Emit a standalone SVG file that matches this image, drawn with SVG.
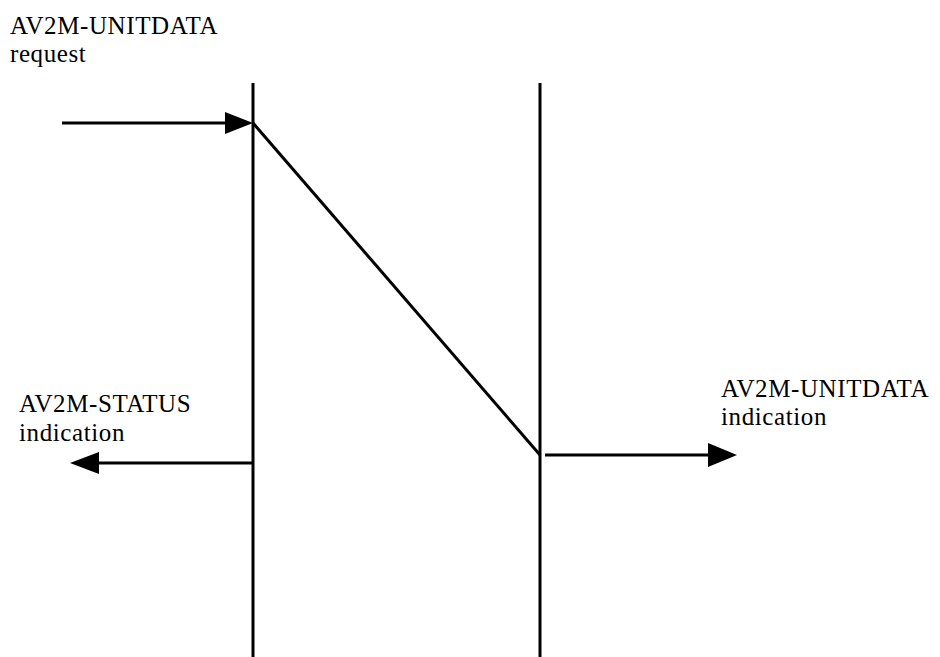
<svg xmlns="http://www.w3.org/2000/svg" width="940" height="657" viewBox="0 0 940 657">
<style>
.ln{stroke:#000;stroke-width:3;fill:none}
.ah{fill:#000}
text{font-family:"Liberation Serif","Times New Roman",serif;font-size:25px;letter-spacing:0.6px;fill:#000}
</style>
<rect width="940" height="657" fill="#fff"/>
<g id="lifeline-left"><line class="ln" x1="253" y1="83" x2="253" y2="657"/></g>
<g id="lifeline-right"><line class="ln" x1="540" y1="83" x2="540" y2="657"/></g>
<g id="connectors">
<line class="ln" x1="62" y1="123" x2="228" y2="123"/>
<polygon class="ah" points="253,123 225,112 225,134"/>
<line class="ln" x1="253" y1="123" x2="540" y2="455"/>
<line class="ln" x1="253" y1="463" x2="96" y2="463"/>
<polygon class="ah" points="70,463 99,452 99,474"/>
<line class="ln" x1="545" y1="455" x2="710" y2="455"/>
<polygon class="ah" points="737,455 708,443 708,467"/>
</g>
<g id="label-request"><text x="10" y="34">AV2M-UNITDATA</text><text x="10" y="62">request</text></g>
<g id="label-status"><text x="19" y="412">AV2M-STATUS</text><text x="19" y="441">indication</text></g>
<g id="label-indication"><text x="721" y="397">AV2M-UNITDATA</text><text x="721" y="425">indication</text></g>
</svg>
